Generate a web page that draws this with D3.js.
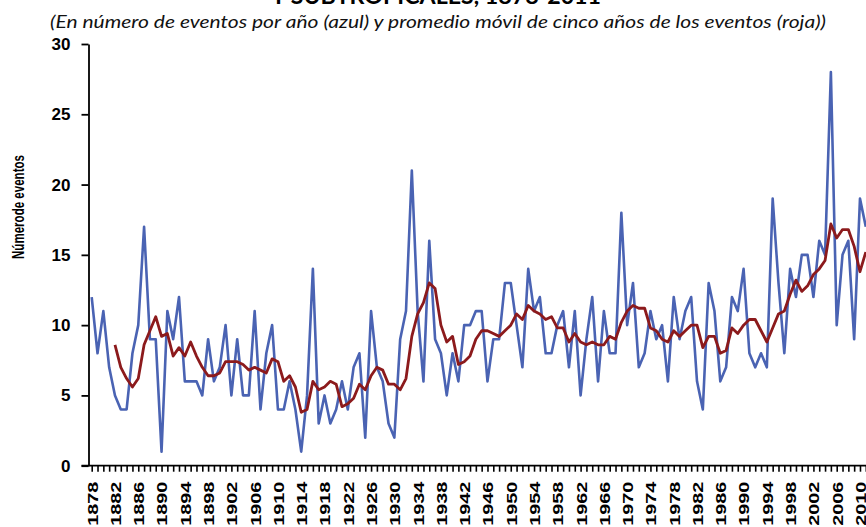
<!DOCTYPE html>
<html>
<head>
<meta charset="utf-8">
<script src="https://cdn.jsdelivr.net/npm/d3@7"></script>
<style>
  body { margin: 0; background: #fff; }
  svg { display: block; }
</style>
</head>
<body>
<div id="chart"></div>
<script>
// annual counts, 1878-2011 (blue) and 5-year moving average (red, from 1882)
const firstYear = 1878;
const events = [
  12, 8, 11, 7, 5, 4, 4, 8, 10, 17,      // 1878-1887
  9, 9, 1, 11, 9, 12, 6, 6, 6, 5,        // 1888-1897
  9, 6, 7, 10, 5, 9, 5, 5, 11, 4,        // 1898-1907
  8, 10, 4, 4, 6, 4, 1, 5, 14, 3,        // 1908-1917
  5, 3, 4, 6, 4, 7, 8, 2, 11, 7,         // 1918-1927
  6, 3, 2, 9, 11, 21, 11, 6, 16, 9,      // 1928-1937
  8, 5, 8, 6, 10, 10, 11, 11, 6, 9,      // 1938-1947
  9, 13, 13, 10, 7, 14, 11, 12, 8, 8,    // 1948-1957
  10, 11, 7, 11, 5, 9, 12, 6, 11, 8,     // 1958-1967
  8, 18, 10, 13, 7, 8, 11, 9, 10, 6,     // 1968-1977
  12, 9, 11, 12, 6, 4, 13, 11, 6, 7,     // 1978-1987
  12, 11, 14, 8, 7, 8, 7, 19, 13, 8,     // 1988-1997
  14, 12, 15, 15, 12, 16, 15, 28, 10, 15, // 1998-2007
  16, 9, 19, 17                          // 2008-2011
];

const avgFirstYear = 1882;
const movingAvg = [
  8.6, 7.0, 6.2, 5.6, 6.2, 8.6, 9.6, 10.6,            // 1882-1889
  9.2, 9.4, 7.8, 8.4, 7.8, 8.8, 7.8, 7.0, 6.4, 6.4,   // 1890-1899
  6.6, 7.4, 7.4, 7.4, 7.2, 6.8, 7.0, 6.8, 6.6, 7.6,   // 1900-1909
  7.4, 6.0, 6.4, 5.6, 3.8, 4.0, 6.0, 5.4, 5.6, 6.0,   // 1910-1919
  5.8, 4.2, 4.4, 4.8, 5.8, 5.4, 6.4, 7.0, 6.8, 5.8,   // 1920-1929
  5.8, 5.4, 6.2, 9.2, 10.8, 11.6, 13.0, 12.6, 10.0, 8.8, // 1930-1939
  9.2, 7.2, 7.4, 7.8, 9.0, 9.6, 9.6, 9.4, 9.2, 9.6,   // 1940-1949
  10.0, 10.8, 10.4, 11.4, 11.0, 10.8, 10.4, 10.6, 9.8, 9.8, // 1950-1959
  8.8, 9.4, 8.8, 8.6, 8.8, 8.6, 8.6, 9.2, 9.0, 10.2,  // 1960-1969
  11.0, 11.4, 11.2, 11.2, 9.8, 9.6, 9.0, 8.8, 9.6, 9.2, // 1970-1979
  9.6, 10.0, 10.0, 8.4, 9.2, 9.2, 8.0, 8.2, 9.8, 9.4, // 1980-1989
  10.0, 10.4, 10.4, 9.6, 8.8, 9.8, 10.8, 11.0, 12.2, 13.2, // 1990-1999
  12.4, 12.8, 13.6, 14.0, 14.6, 17.2, 16.2, 16.8, 16.8, 15.6, // 2000-2009
  13.8, 15.2                                           // 2010-2011
];

const yTicks = [0, 5, 10, 15, 20, 25, 30];
const labelStep = 4;

const titleText = "Y SUBTROPICALES, 1878-2011";
const subtitleText = "(En número de eventos por año (azul) y promedio móvil de cinco años de los eventos (roja))";
const yTitle = "Númerode eventos";

const W = 866, H = 527;

const blueData = events.map((v, i) => ({ year: firstYear + i, value: v }));
const redData = movingAvg.map((v, i) => ({ year: avgFirstYear + i, value: v }));
const years = blueData.map(d => d.year);

const svg = d3.select("#chart")
  .append("svg")
  .attr("width", W)
  .attr("height", H);

const x = d3.scaleLinear()
  .domain([firstYear, 2011])
  .range([91.7, 865.8]);

const y = d3.scaleLinear()
  .domain([0, 30])
  .range([465.7, 44]);

// title (top line mostly cut off, as in the source) and subtitle
svg.append("text")
  .attr("x", 436)
  .attr("y", 4)
  .attr("text-anchor", "middle")
  .attr("textLength", 330)
  .attr("lengthAdjust", "spacingAndGlyphs")
  .style("font-family", "Lato, 'Open Sans', sans-serif")
  .style("font-weight", "700")
  .style("font-size", "22px")
  .text(titleText);

svg.append("text")
  .attr("x", 438)
  .attr("y", 28)
  .attr("text-anchor", "middle")
  .attr("textLength", 776)
  .attr("lengthAdjust", "spacingAndGlyphs")
  .style("font-family", "Lato, 'Open Sans', sans-serif")
  .style("font-style", "italic")
  .style("font-size", "18px")
  .style("fill", "#111")
  .text(subtitleText);

// y axis
const yAxis = svg.append("g")
  .attr("transform", "translate(88.5,0)")
  .call(d3.axisLeft(y).tickValues(yTicks).tickSize(7).tickSizeOuter(0).tickPadding(11).tickFormat(d3.format("d")));

yAxis.select(".domain").attr("stroke", "#000").attr("stroke-width", 1.8);
yAxis.selectAll(".tick line").attr("stroke", "#000").attr("stroke-width", 1.8);
yAxis.selectAll("text")
  .style("font-family", "'Liberation Sans', Arial, sans-serif")
  .style("font-weight", "700")
  .style("font-size", "17px")
  .style("fill", "#000");

svg.append("text")
  .attr("transform", `translate(23.5,207) rotate(-90)`)
  .attr("text-anchor", "middle")
  .attr("textLength", 104)
  .attr("lengthAdjust", "spacingAndGlyphs")
  .style("font-family", "'Liberation Sans', Arial, sans-serif")
  .style("font-weight", "700")
  .style("font-size", "16px")
  .text(yTitle);

// x axis: a tick per year, label every 4 years
const xAxis = svg.append("g")
  .attr("transform", `translate(0,${y(0)})`)
  .call(d3.axisBottom(x).tickValues(years).tickSize(6).tickSizeOuter(0)
    .tickFormat(d => (d - firstYear) % labelStep === 0 ? String(d) : ""));

xAxis.select(".domain").remove();
xAxis.selectAll(".tick line").attr("stroke", "#000").attr("stroke-width", 1.6);
xAxis.selectAll("text")
  .attr("transform", "rotate(-90)")
  .attr("x", -16)
  .attr("y", 0)
  .attr("dy", "0.36em")
  .attr("text-anchor", "end")
  .style("font-family", "'Liberation Sans', Arial, sans-serif")
  .style("font-weight", "700")
  .style("font-size", "15px")
  .style("fill", "#000")
  .each(function () {
    if (this.textContent) d3.select(this).attr("textLength", 44).attr("lengthAdjust", "spacingAndGlyphs");
  });

svg.append("line")
  .attr("x1", 81.5)
  .attr("x2", W)
  .attr("y1", y(0))
  .attr("y2", y(0))
  .attr("stroke", "#000")
  .attr("stroke-width", 1.8);

// lines
const line = d3.line()
  .x(d => x(d.year))
  .y(d => y(d.value));

svg.append("path")
  .datum(blueData)
  .attr("fill", "none")
  .attr("stroke", "#4a63b3")
  .attr("stroke-width", 2.6)
  .attr("stroke-linejoin", "round")
  .attr("d", line);

svg.append("path")
  .datum(redData)
  .attr("fill", "none")
  .attr("stroke", "#8c1a1c")
  .attr("stroke-width", 2.8)
  .attr("stroke-linejoin", "round")
  .attr("d", line);
</script>
</body>
</html>
